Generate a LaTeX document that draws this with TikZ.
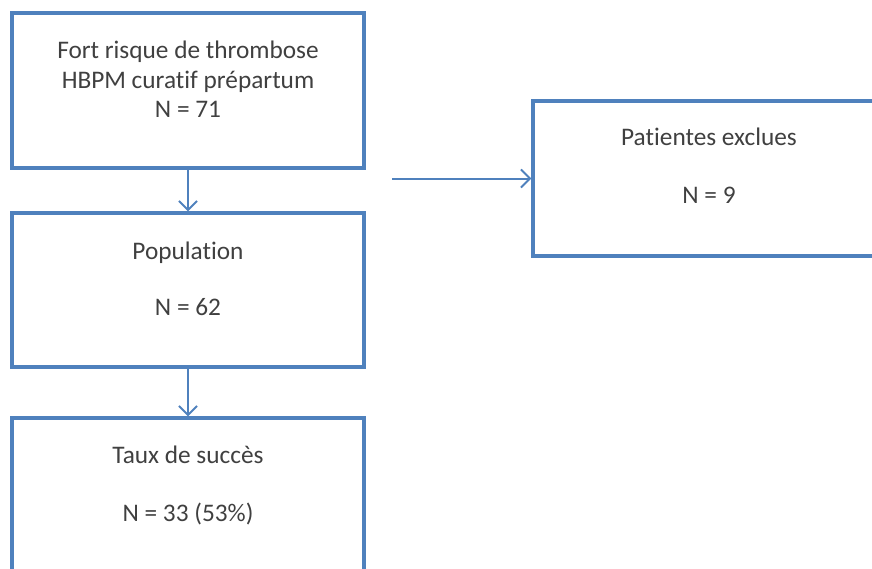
\documentclass[tikz,border=0pt]{standalone}
\usepackage{fontspec}
\setmainfont[Ligatures={NoCommon}]{Carlito}
\usetikzlibrary{arrows.meta}
\definecolor{boxblue}{HTML}{4F81BD}
\definecolor{txt}{HTML}{404040}
\begin{document}
\begin{tikzpicture}[x=1pt,y=-1pt,
  flowbox/.style={draw=boxblue, line width=3.2pt, rectangle, inner sep=0pt,
    minimum width=352pt, minimum height=155pt},
  line/.style={anchor=base, inner sep=0pt, text=txt, font=\fontsize{25.3}{30}\selectfont},
  conn/.style={draw=boxblue, line width=2pt, -{Straight Barb[length=9pt,width=18pt]}}]
\useasboundingbox (0,0) rectangle (872,568);
% boxes
\node[flowbox] (b1) at (188,90.5) {};
\node[flowbox, minimum height=154pt] (b2) at (188,290) {};
\node[flowbox] (b3) at (188,495.5) {};
\node[flowbox] (ex) at (709,178.5) {};
% texts
\node[line] (t1a) at (188,58) {Fort risque de thrombose};
\node[line] (t1b) at (188,88) {HBPM curatif prépartum};
\node[line] (t1c) at (188,117) {N = 71};
\node[line] (t2a) at (188,259) {Population};
\node[line] (t2b) at (188,315) {N = 62};
\node[line] (t3a) at (188,463) {Taux de succès};
\node[line] (t3b) at (188,521) {N = 33 (53\%)};
\node[line] (tea) at (709,145) {Patientes exclues};
\node[line] (teb) at (709,203) {N = 9};
% connectors
\coordinate (hstart) at (392,178.5);
\draw[conn] (b1.south) -- (b2.north);
\draw[conn] (b2.south) -- (b3.north);
\draw[conn] (hstart) -- (ex.west);
\end{tikzpicture}
\end{document}
